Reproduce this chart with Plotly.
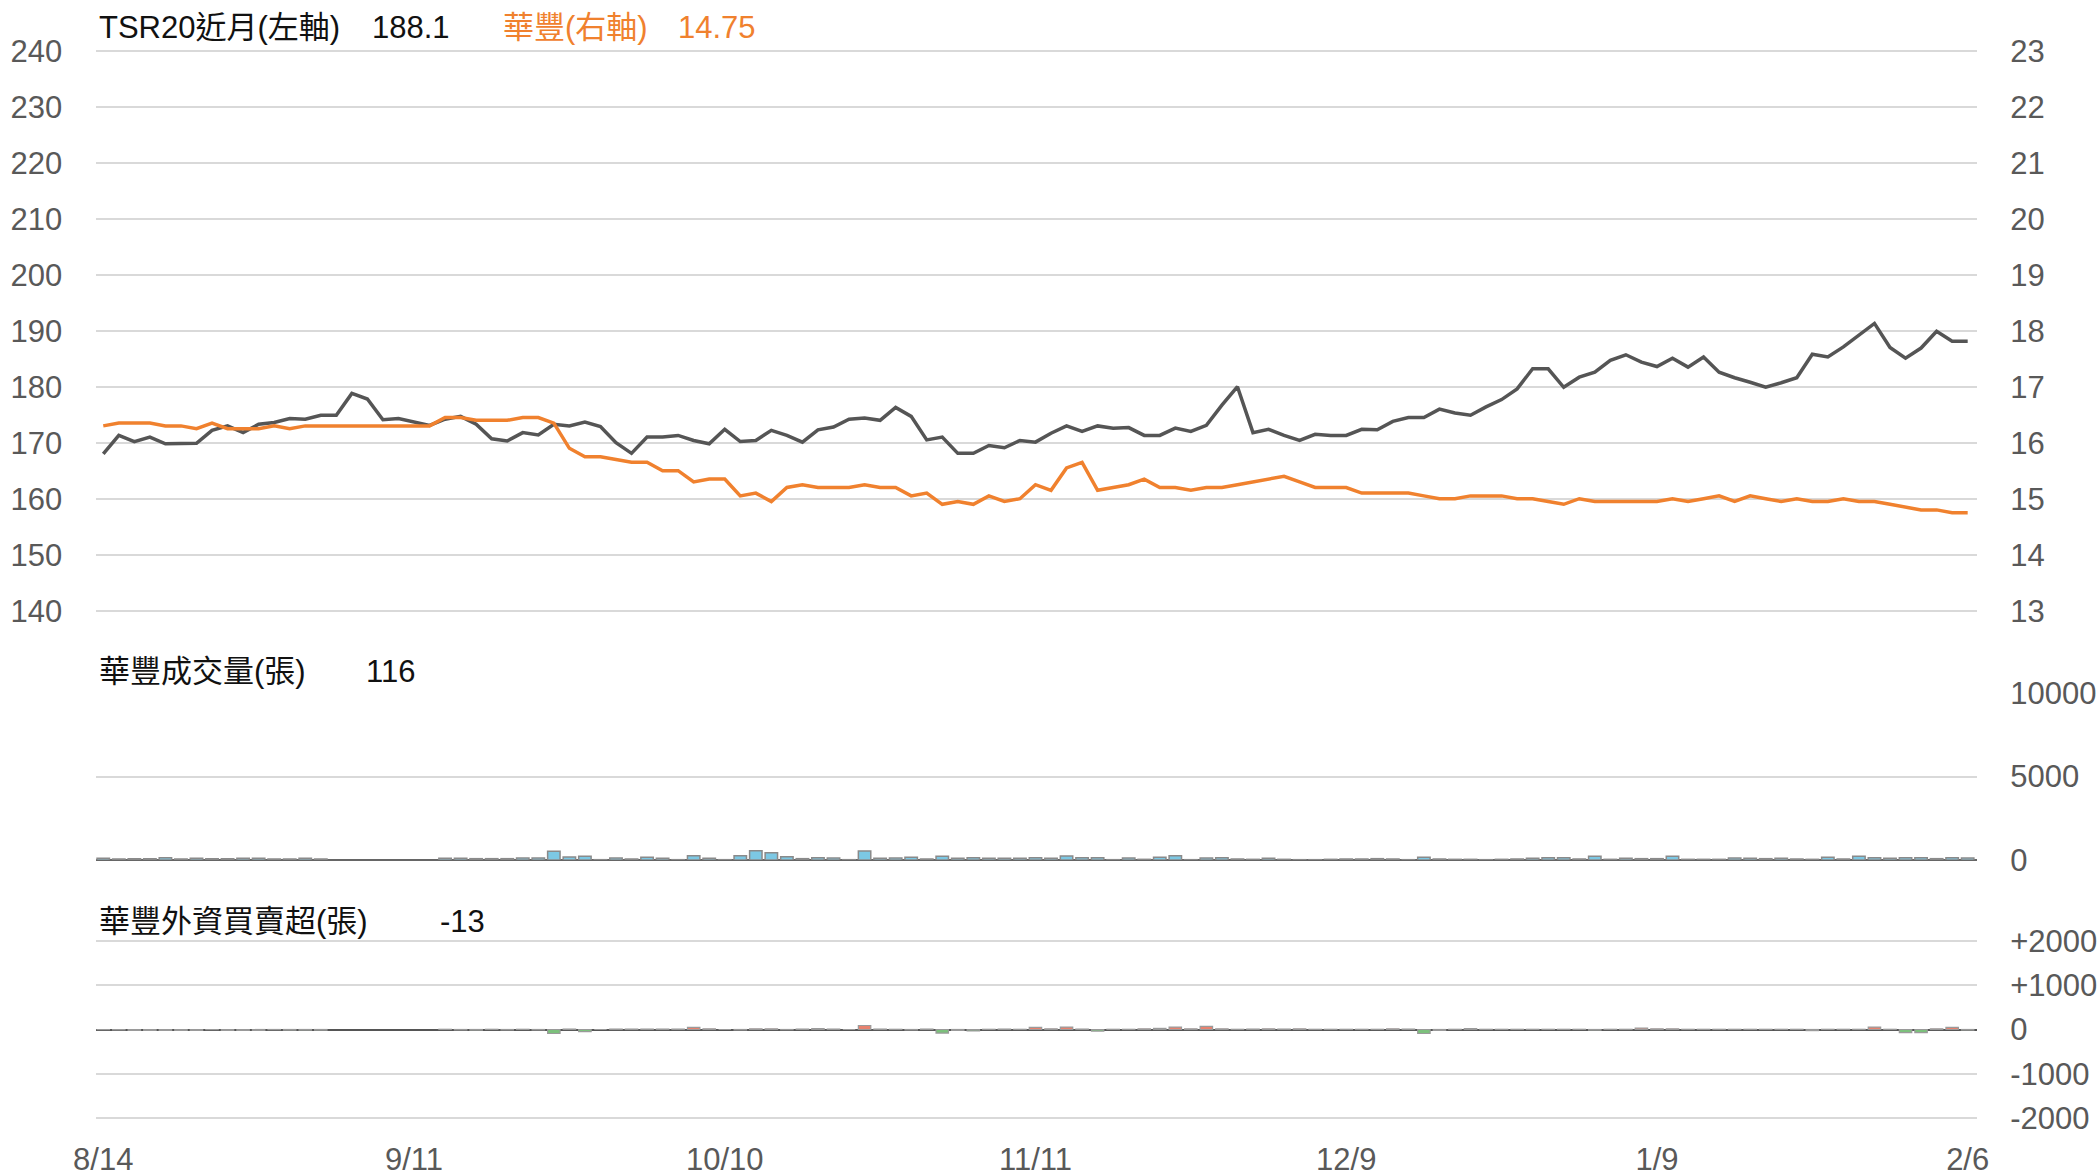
import plotly.graph_objects as go

# ---------------- data ----------------
x_labels = ["8/14", "9/11", "10/10", "11/11", "12/9", "1/9", "2/6"]
x_label_pos = [0, 20, 40, 60, 80, 100, 120]

tsr20 = [168.0, 171.3, 170.2, 171.0, 169.8, 169.9, 169.9, 172.2, 173.0, 171.8,
         173.3, 173.6, 174.3, 174.2, 174.9, 174.9, 178.8, 177.8, 174.1, 174.3,
         173.7, 173.1, 174.2, 174.7, 173.3, 170.7, 170.3, 171.8, 171.4, 173.3,
         173.0, 173.7, 172.9, 170.0, 168.1, 171.0, 171.0, 171.3, 170.4, 169.8,
         172.4, 170.2, 170.4, 172.2, 171.3, 170.1, 172.3, 172.8, 174.2, 174.4,
         174.0, 176.3, 174.7, 170.5, 171.0, 168.1, 168.1, 169.5, 169.1, 170.4,
         170.1, 171.7, 173.0, 172.0, 173.0, 172.6, 172.7, 171.3, 171.3, 172.6,
         172.0, 173.1, 176.7, 180.0, 171.8, 172.4, 171.3, 170.4, 171.5, 171.3,
         171.3, 172.4, 172.3, 173.8, 174.5, 174.5, 176.0, 175.3, 174.9, 176.4,
         177.7, 179.6, 183.2, 183.2, 179.9, 181.7, 182.6, 184.7, 185.7, 184.4,
         183.6, 185.1, 183.5, 185.3, 182.6, 181.6, 180.8, 179.9, 180.7, 181.6,
         185.8, 185.3, 187.1, 189.2, 191.3, 187.0, 185.1, 186.9, 189.9, 188.1,
         188.1]

huafeng = [16.30, 16.35, 16.35, 16.35, 16.30, 16.30, 16.25, 16.35, 16.25, 16.25,
           16.25, 16.30, 16.25, 16.30, 16.30, 16.30, 16.30, 16.30, 16.30, 16.30,
           16.30, 16.30, 16.45, 16.45, 16.40, 16.40, 16.40, 16.45, 16.45, 16.35,
           15.90, 15.75, 15.75, 15.70, 15.65, 15.65, 15.50, 15.50, 15.30, 15.35,
           15.35, 15.05, 15.10, 14.95, 15.20, 15.25, 15.20, 15.20, 15.20, 15.25,
           15.20, 15.20, 15.05, 15.10, 14.90, 14.95, 14.90, 15.05, 14.95, 15.00,
           15.25, 15.15, 15.55, 15.65, 15.15, 15.20, 15.25, 15.35, 15.20, 15.20,
           15.15, 15.20, 15.20, 15.25, 15.30, 15.35, 15.40, 15.30, 15.20, 15.20,
           15.20, 15.10, 15.10, 15.10, 15.10, 15.05, 15.00, 15.00, 15.05, 15.05,
           15.05, 15.00, 15.00, 14.95, 14.90, 15.00, 14.95, 14.95, 14.95, 14.95,
           14.95, 15.00, 14.95, 15.00, 15.05, 14.95, 15.05, 15.00, 14.95, 15.00,
           14.95, 14.95, 15.00, 14.95, 14.95, 14.90, 14.85, 14.80, 14.80, 14.75,
           14.75]

volume = [100, 60, 80, 80, 140, 60, 100, 80, 80, 100,
          100, 60, 60, 100, 60, None, None, None, None, None,
          None, None, 100, 100, 80, 80, 80, 120, 120, 520,
          180, 220, 20, 120, 60, 160, 100, 20, 260, 100,
          20, 260, 560, 440, 200, 80, 140, 120, 20, 540,
          100, 120, 160, 60, 220, 100, 140, 100, 100, 100,
          140, 100, 240, 140, 140, 20, 120, 40, 160, 260,
          20, 120, 140, 60, 40, 100, 40, 20, 20, 40,
          60, 60, 80, 60, 20, 160, 60, 40, 40, 20,
          40, 60, 100, 140, 140, 60, 220, 40, 100, 80,
          80, 220, 40, 40, 40, 120, 100, 80, 100, 60,
          40, 160, 60, 220, 140, 100, 140, 140, 80, 140,
          116]

foreign = [-5, -10, -20, -20, -20, -20, -20, -5, -20, -20,
           -20, -5, -15, -15, -15, None, None, None, None, None,
           None, None, 5, -10, -15, 5, -10, 5, -10, -90,
           10, -50, 0, 10, 10, 10, 10, 10, 50, 15,
           0, -10, 15, 15, -5, 10, 20, 10, 0, 90,
           10, 5, -10, 10, -80, -20, -30, 5, 10, 5,
           50, 15, 55, 10, -35, 5, 5, 15, 25, 55,
           15, 70, 15, 5, 10, 15, 10, 15, 5, 5,
           5, 5, 5, 15, 10, -90, -20, 5, 20, 5,
           5, 5, 5, 5, 5, 5, -15, 5, 5, 30,
           15, 15, 5, 5, 5, 5, 5, 5, 5, 5,
           -25, 5, 5, 5, 55, 5, -70, -70, 15, 50,
           -13]

left_ticks = list(range(140, 241, 10))
right_ticks = list(range(13, 24))
vol_ticks = [0, 5000, 10000]
vol_ticktext = ["0", "5000", "10000"]
fx_ticks = [-2000, -1000, 0, 1000, 2000]
fx_ticktext = ["-2000", "-1000", "0", "+1000", "+2000"]

idx = list(range(len(tsr20)))

# ---------------- geometry (pixels -> paper) ----------------
W, H = 2099, 1175
XD = [95.5 / W, 1977 / W]


def ydom(top_px, bot_px):
    return [1 - bot_px / H, 1 - top_px / H]


FONT = "Liberation Sans, Arial, Noto Sans CJK TC, sans-serif"
FS = 31
TICK = dict(family=FONT, size=FS, color="#595959")
GRID = "#D9D9D9"

fig = go.Figure()
fig.add_trace(go.Scatter(x=idx, y=huafeng, mode="lines",
                         line=dict(color="#F0812E", width=3.5),
                         xaxis="x", yaxis="y2", hoverinfo="skip"))
fig.add_trace(go.Scatter(x=idx, y=tsr20, mode="lines",
                         line=dict(color="#555555", width=3.5),
                         xaxis="x", yaxis="y", hoverinfo="skip"))
fig.add_trace(go.Bar(x=idx, y=volume, width=0.8,
                     marker=dict(color="#7CC8E4", line=dict(color="#8A8A8A", width=1.5)),
                     xaxis="x2", yaxis="y3", hoverinfo="skip"))
fcol = ["#E8826F" if (v is not None and v >= 0) else "#7CC07C" for v in foreign]
fig.add_trace(go.Bar(x=idx, y=foreign, width=0.8,
                     marker=dict(color=fcol, line=dict(color="#9A9A9A", width=1.2)),
                     xaxis="x3", yaxis="y4", hoverinfo="skip"))

xr = [-0.5, 120.6]
xbase = dict(domain=XD, range=xr, showgrid=False, zeroline=False,
             showline=False, fixedrange=True)
ybase = dict(gridcolor=GRID, gridwidth=2, zeroline=False, showline=False,
             tickfont=TICK, ticks="outside", ticklen=26,
             tickcolor="rgba(0,0,0,0)", automargin=False, fixedrange=True)

# small range padding so the edge gridlines are drawn
fig.update_layout(
    width=W, height=H,
    margin=dict(l=0, r=0, t=0, b=0),
    paper_bgcolor="white", plot_bgcolor="white",
    showlegend=False, bargap=0.2,
    xaxis=dict(**xbase, anchor="y", showticklabels=False),
    xaxis2=dict(**xbase, anchor="y3", showticklabels=False),
    xaxis3=dict(**xbase, anchor="y4", tickvals=x_label_pos, ticktext=x_labels,
                tickfont=TICK, ticks="outside", ticklen=13,
                tickcolor="rgba(0,0,0,0)", automargin=False),
    yaxis=dict(**ybase, domain=ydom(50.7 - 1.12, 610.7 + 1.12), range=[139.8, 240.2],
               tickvals=left_ticks, side="left", anchor="x"),
    yaxis2=dict(**ybase, domain=ydom(50.7 - 1.12, 610.7 + 1.12), range=[12.98, 23.02],
                tickvals=right_ticks, side="right", overlaying="y",
                anchor="x", showgrid=False),
    yaxis3=dict(**ybase, domain=ydom(693 - 1.0, 860), range=[0, 10060],
                tickvals=vol_ticks, ticktext=vol_ticktext, side="right", anchor="x2"),
    yaxis4=dict(**ybase, domain=ydom(941 - 1.1, 1118 + 1.1), range=[-2025, 2025],
                tickvals=fx_ticks, ticktext=fx_ticktext,
                side="right", anchor="x3"),
)

# zero baselines
fig.update_layout(yaxis3=dict(zeroline=True, zerolinecolor="#666666", zerolinewidth=2.5),
                  yaxis4=dict(zeroline=True, zerolinecolor="#555555", zerolinewidth=2))

TITLE_F = dict(family=FONT, size=FS, color="#111111")
ORANGE_F = dict(family=FONT, size=FS, color="#F0812E")


def label(px, py, text, font):
    fig.add_annotation(xref="paper", yref="paper", x=px / W, y=1 - py / H,
                       text=text, showarrow=False, xanchor="left",
                       yanchor="middle", font=font)


label(97, 28, "TSR20近月(左軸)", TITLE_F)
label(370, 28, f"{tsr20[-1]:.1f}", TITLE_F)
label(501, 28, "華豐(右軸)", ORANGE_F)
label(676, 28, f"{huafeng[-1]:.2f}", ORANGE_F)
label(97, 671, "華豐成交量(張)", TITLE_F)
label(364, 671, f"{volume[-1]}", TITLE_F)
label(97, 921, "華豐外資買賣超(張)", TITLE_F)
label(438, 921, f"{foreign[-1]}", TITLE_F)

fig.write_html("out.html",
               config={"displayModeBar": False, "staticPlot": True},
               post_script="document.body.style.margin='0px';document.body.style.overflow='hidden';")
